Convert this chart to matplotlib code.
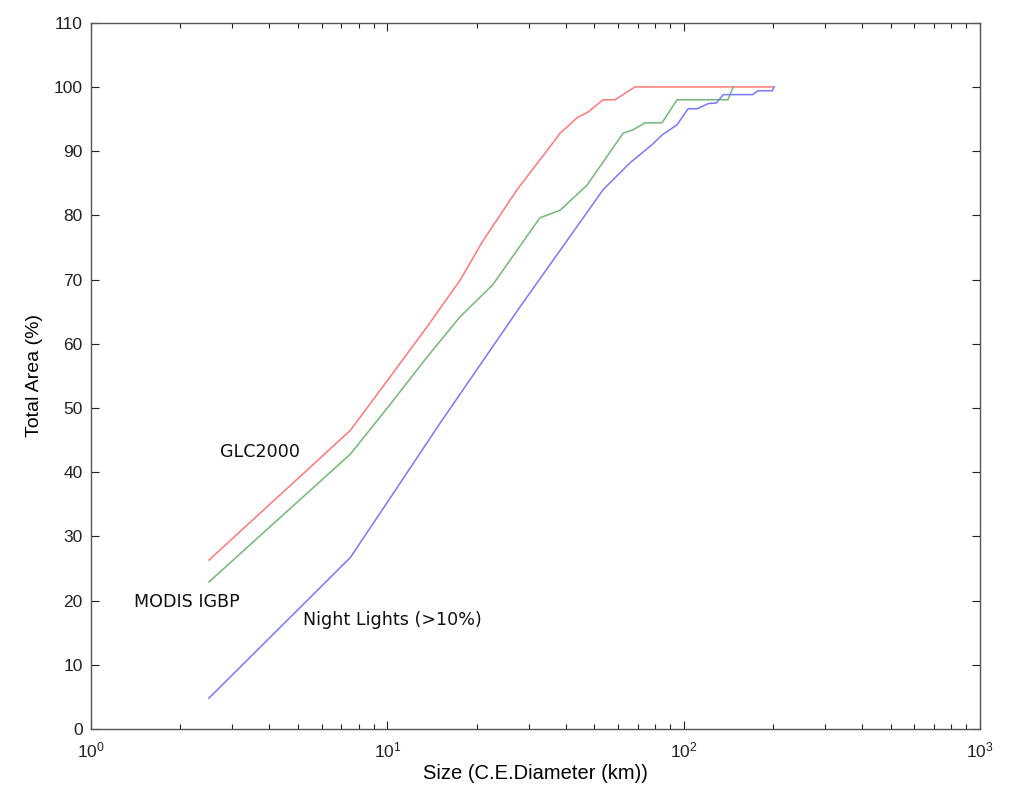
import matplotlib
matplotlib.use("Agg")
import matplotlib.pyplot as plt
from matplotlib.ticker import LogLocator, FixedLocator

plt.rcParams['font.family'] = ['Liberation Sans', 'DejaVu Sans']

# Data
glc_x = [2.5, 7.5, 10.2, 13.6, 17.6, 21.0, 27.4, 35.4, 38.3, 43.7, 47.6, 53.5, 58.7, 68.5, 200]
glc_y = [26.3, 46.5, 54.8, 62.6, 69.9, 76.0, 84.0, 90.7, 92.8, 95.2, 96.1, 98.0, 98.0, 100.0, 100.0]

modis_x = [2.5, 7.5, 10.2, 13.6, 17.6, 22.7, 32.7, 38.3, 47.2, 62.5, 67.4, 74.1, 84.5, 95.0, 141, 147]
modis_y = [22.9, 42.8, 50.5, 57.9, 64.2, 69.2, 79.6, 80.8, 84.7, 92.8, 93.3, 94.4, 94.4, 98.0, 98.0, 100.0]

night_x = [2.5, 7.5, 10.2, 15.1, 28.0, 53.5, 66.0, 78.2, 84.5, 95.0, 103.5, 111, 121, 129, 136, 171, 178, 199, 202]
night_y = [4.8, 26.7, 35.9, 47.7, 65.7, 84.0, 88.2, 91.0, 92.5, 94.1, 96.6, 96.6, 97.4, 97.5, 98.8, 98.8, 99.4, 99.4, 100.0]

labels = ["GLC2000", "MODIS IGBP", "Night Lights (>10%)"]
y_ticks = list(range(0, 111, 10))

fig = plt.figure(figsize=(10.15, 7.92), dpi=100)
ax = fig.add_axes([91/1015, 1 - 729/792, (980 - 91)/1015, (729 - 22.7)/792])

ax.plot(glc_x, glc_y, color='#ff7878', lw=1.1)
ax.plot(modis_x, modis_y, color='#74b874', lw=1.1)
ax.plot(night_x, night_y, color='#7878ff', lw=1.1)

ax.set_xscale('log')
ax.set_xlim(1, 1000)
ax.set_ylim(0, 110)
ax.yaxis.set_major_locator(FixedLocator(y_ticks))
ax.xaxis.set_major_locator(LogLocator(base=10, numticks=10))
ax.xaxis.set_minor_locator(LogLocator(base=10, subs=range(2, 10), numticks=20))

ax.tick_params(which='both', direction='in', top=True, right=True, labelsize=12.5, colors='#222222')
ax.tick_params(which='major', length=6, width=0.8)
ax.tick_params(which='minor', length=3.5, width=0.8)
ax.tick_params(axis='x', which='major', pad=8)
ax.tick_params(axis='y', which='major', pad=6)
for s in ax.spines.values():
    s.set_color('#555555')
    s.set_linewidth(1.0)

ax.set_xlabel("Size (C.E.Diameter (km))", fontsize=14.5, labelpad=3)
ax.set_ylabel("Total Area (%)", fontsize=14, labelpad=8)

ann = dict(fontsize=12.6, va='center', ha='left', color='#111111', family=['DejaVu Sans'])
ax.text(2.72, 43.2, labels[0], **ann)
ax.text(1.4, 19.8, labels[1], **ann)
ax.text(5.19, 17.0, labels[2], **ann)

fig.savefig("out.png", dpi=100)
